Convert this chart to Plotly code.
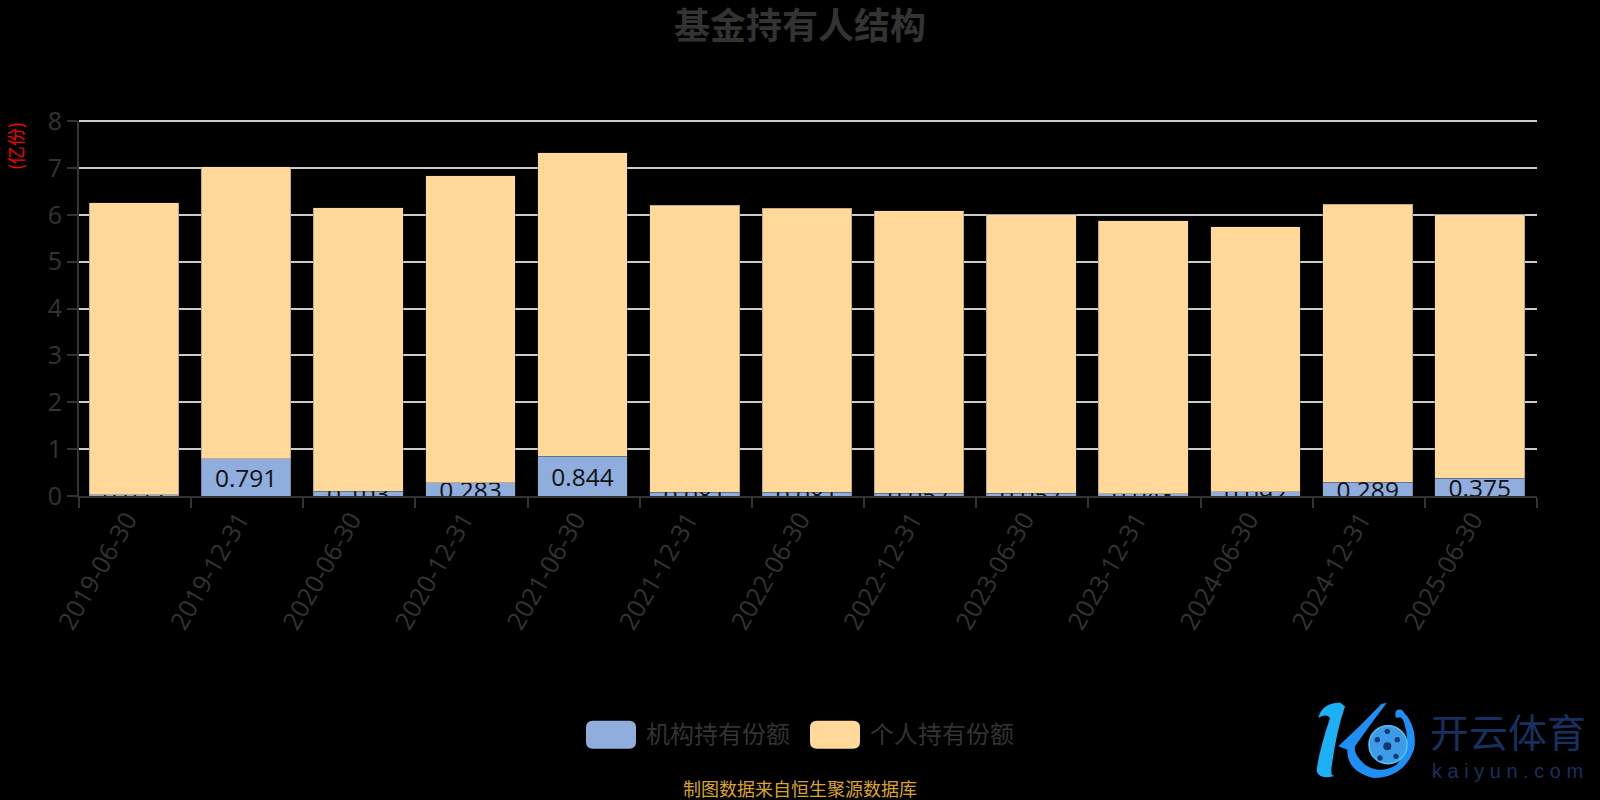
import plotly.graph_objects as go

dates = ["2019-06-30","2019-12-31","2020-06-30","2020-12-31","2021-06-30","2021-12-31","2022-06-30",
         "2022-12-31","2023-06-30","2023-12-31","2024-06-30","2024-12-31","2025-06-30"]
institution = [0.022,0.791,0.103,0.283,0.844,0.081,0.081,0.057,0.057,0.048,0.092,0.289,0.375]
individual = [6.23,6.23,6.05,6.55,6.48,6.12,6.06,6.03,5.94,5.82,5.65,5.93,5.63]
series_names = ["机构持有份额","个人持有份额"]
BLUE = "#8FAEDD"
ORANGE = "#FFD89A"
FONT = "Noto Sans CJK SC"
DARK = "#333333"
EDGE = "rgba(60,60,60,0.3)"

fig = go.Figure()
fig.add_bar(x=dates, y=institution, name=series_names[0], width=0.8, offset=-0.41,
            marker=dict(color=BLUE, line=dict(color=EDGE, width=1)),
            text=[f"{v:g}" for v in institution], textposition="inside", insidetextanchor="middle",
            constraintext="none", textangle=0, cliponaxis=True,
            insidetextfont=dict(size=24.5, color="#111111", family="Open Sans"))
fig.add_bar(x=dates, y=individual, name=series_names[1], width=0.8, offset=-0.41,
            marker=dict(color=ORANGE, line=dict(color=EDGE, width=1)))

shapes = []
annots = []
W, H = 1600, 800
L, R, T, B = 79, 63, 120.5, 304
pw, ph = W-L-R, H-T-B
def px(x): return (x-L)/pw
def py(y): return (H-B-y)/ph

def rounded(x0, x1, y0, y1, c, r=7):
    X0, X1 = px(x0), px(x1); Y0, Y1 = py(y0), py(y1)
    rx, ry = r/pw, r/ph
    p = (f"M{X0+rx},{Y0} L{X1-rx},{Y0} Q{X1},{Y0} {X1},{Y0-ry} L{X1},{Y1+ry} Q{X1},{Y1} {X1-rx},{Y1} "
         f"L{X0+rx},{Y1} Q{X0},{Y1} {X0},{Y1+ry} L{X0},{Y0-ry} Q{X0},{Y0} {X0+rx},{Y0} Z")
    return dict(type="path", path=p, xref="paper", yref="paper", fillcolor=c, line=dict(width=0), layer="above")

shapes.append(rounded(586, 636, 721, 749, BLUE))
shapes.append(rounded(810, 860, 721, 749, ORANGE))
# top gridline, which the axis would otherwise hide at the range edge
shapes.append(dict(type="line", xref="paper", yref="paper", x0=0, x1=1, y0=1, y1=1, line=dict(color="#CCCCCC", width=2), layer="below"))

def text(x, y, s, size, color, anchor="left", family=FONT, angle=0, **kw):
    annots.append(dict(x=px(x), y=py(y), xref="paper", yref="paper", text=s, showarrow=False, xanchor=anchor, yanchor="middle",
                       font=dict(size=size, color=color, family=family), textangle=angle, **kw))

text(644, 733, series_names[0], 24, DARK)
text(868, 733, series_names[1], 24, DARK)
text(800, 788, "制图数据来自恒生聚源数据库", 18, "#DAA520", anchor="center")
text(15.5, 146, "(亿份)", 18, "#FF0000", anchor="center", angle=-90)

# watermark logo (path commands given in the zoomed logo's coordinates, 3x from 1290,690)
def logo_path(cmds, color):
    out = []
    for c in cmds:
        op, *pts = c
        coords = " ".join(f"{px(1290+pts[i]/3)},{py(690+pts[i+1]/3)}" for i in range(0, len(pts), 2))
        out.append(f"{op}{coords}")
    return dict(type="path", path=" ".join(out)+" Z", xref="paper", yref="paper", fillcolor=color, line=dict(width=0), layer="above")

shapes.append(logo_path([("M",85,85),("Q",95,40,150,38),("L",165,50),("Q",140,120,125,230),("Q",120,262,135,258),
                         ("Q",90,272,80,245),("Q",85,190,120,85),("Q",110,70,85,85)], "#1CB0F6"))
shapes.append(logo_path([("M",290,40),("L",275,42),("Q",210,110,145,170),("Q",165,178,172,180),("Q",170,245,250,265),
                         ("Q",340,265,372,180),("Q",385,110,335,60),("Q",310,55,318,85),("Q",340,75,345,110),
                         ("Q",365,170,320,225),("Q",270,255,225,225),("Q",190,195,195,170),("Q",240,105,290,40)], "#1E8FF5"))
shapes.append(dict(type="circle", xref="paper", yref="paper", x0=px(1369), x1=px(1407), y0=py(764), y1=py(726),
                   fillcolor="#3E9BE8", line=dict(color="#52C4F0", width=1.5), layer="above"))
for cx, cy, r in [(292,170,12),(262,150,8),(322,150,8),(270,205,8),(318,200,8),(292,125,8)]:
    shapes.append(dict(type="circle", xref="paper", yref="paper", x0=px(1290+(cx-r)/3), x1=px(1290+(cx+r)/3),
                       y0=py(690+(cy+r)/3), y1=py(690+(cy-r)/3), fillcolor="#123A70", line=dict(width=0), layer="above"))
text(1508, 730, "开云体育", 39, "#17305F", anchor="center")
text(1507, 771, "k a i y u n . c o m", 20, "#17305F", anchor="center", family="Liberation Sans")

fig.update_layout(
    width=W, height=H, barmode="stack",
    paper_bgcolor="#000000", plot_bgcolor="#000000",
    margin=dict(l=L, r=R, t=T, b=B, autoexpand=False),
    font=dict(family=FONT, color=DARK),
    showlegend=False, shapes=shapes, annotations=annots,
    title=dict(text="<b>基金持有人结构</b>", x=0.5, xanchor="center", y=1-26/H, yanchor="middle",
               font=dict(size=36, color=DARK, family=FONT)),
    xaxis=dict(type="category", tickson="boundaries", tickangle=-60, ticks="outside", ticklen=10, tickwidth=2, tickcolor=DARK,
               showline=True, linecolor=DARK, linewidth=2, showgrid=False, ticklabelshift=-8, ticklabelstandoff=-3,
               tickfont=dict(size=25, color=DARK, family="Open Sans"), automargin=False),
    yaxis=dict(range=[0, 8], dtick=1, ticks="outside", ticklen=10, tickwidth=2, tickcolor=DARK,
               showline=True, linecolor=DARK, linewidth=2, showgrid=True, gridcolor="#CCCCCC", gridwidth=2, zeroline=False,
               tickfont=dict(size=25, color=DARK, family="Open Sans"), automargin=False),
)
fig.write_html("out.html", config=dict(displayModeBar=False),
               post_script="document.body.style.margin='0';document.body.style.background='#000';")
